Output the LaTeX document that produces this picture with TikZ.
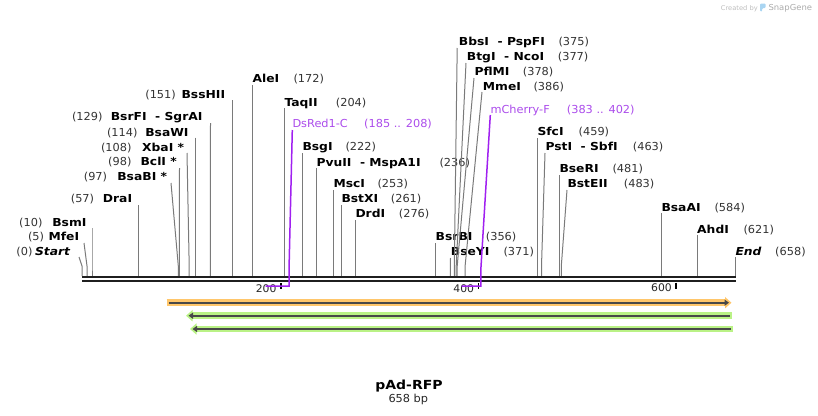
\documentclass[tikz,border=0pt]{standalone}
\usepackage{fontspec}
\setmainfont{DejaVu Sans}
\newfontfamily\lblfam{DejaVu Sans}[FakeStretch=1.12]
\newfontfamily\regfam{DejaVu Sans}[FakeStretch=1.03]
\usetikzlibrary{arrows.meta}
\definecolor{cutgray}{HTML}{7A7A7A}
\definecolor{bbcol}{HTML}{1F1F1F}
\definecolor{primline}{HTML}{A020F0}
\definecolor{primtext}{HTML}{AB4CEB}
\definecolor{featorange}{HTML}{FFC66A}
\definecolor{featgreen}{HTML}{BAF286}
\definecolor{featdark}{HTML}{484848}
\definecolor{logogray}{HTML}{BDBDBD}
\definecolor{logoblue}{HTML}{A9D5F2}
\tikzset{
  lbl/.style={inner sep=0pt, font=\lblfam\bfseries\fontsize{11}{13}\selectfont},
  num/.style={inner sep=0pt, text=black!80, font=\regfam\fontsize{11}{13}\selectfont},
  primlbl/.style={inner sep=0pt, text=primtext, font=\regfam\fontsize{11}{13}\selectfont},
  cutline/.style={draw=cutgray, line width=1pt},
  primer/.style={draw=primline, line width=1.5pt},
  backbone/.style={draw=bbcol},
  tickmark/.style={draw=black, line width=1.5pt},
  ticklbl/.style={inner sep=0pt, text=black!85, font=\regfam\fontsize{10.5}{12}\selectfont},
  halo/.style={line width=6.5pt},
  core/.style={draw=featdark, line width=1.7pt},
}
% left-labelled site: id, name, number, name right x, number right x, baseline, top x, top y, backbone x
\newcommand\lsite[9]{%
  \node[lbl, anchor=base east] (#1) at (#4,#6) {#2};
  \node[num, anchor=base east] (#1n) at (#5,#6) {#3};
  \coordinate (#1t) at (#7,#8);
  \coordinate (#1b) at (#9,276);
  \draw[cutline] (#1t) -- (#9,266) -- (#1b);}
% right-labelled site: id, name, number, name left x, number left x, baseline, top x, top y, backbone x
\newcommand\rsite[9]{%
  \node[lbl, anchor=base west] (#1) at (#4,#6) {#2};
  \node[num, anchor=base west] (#1n) at (#5,#6) {#3};
  \coordinate (#1t) at (#7,#8);
  \coordinate (#1b) at (#9,276);
  \draw[cutline] (#1t) -- (#9,266) -- (#1b);}
\begin{document}
\begin{tikzpicture}[x=1pt, y=-1pt]
\useasboundingbox (0,0) rectangle (818,415);

% logo
\node[anchor=base west, inner sep=0pt, text=logogray, font=\regfam\fontsize{6.5}{8}\selectfont] (createdby) at (720.7,10) {Created by};
\fill[logoblue, rounded corners=1.2pt] (760,11.7) -- (760,3.5) -- (765.7,3.5) -- (765.7,8) -- (762.2,8) -- (762.2,11.7) -- cycle;
\node[anchor=base west, inner sep=0pt, text=logogray!90!black, font=\regfam\fontsize{8.2}{10}\selectfont] (snapgene) at (768.3,10.3) {SnapGene};

% left-labelled sites
\lsite{start}{\textit{Start}}{(0)}{70.7}{32.7}{255.7}{79}{257}{82}
\lsite{mfe}{MfeI}{(5)}{79.3}{44.3}{240}{84}{243}{87}
\lsite{bsm}{BsmI}{(10)}{86.7}{42.7}{226}{92}{228}{92}
\lsite{dra}{DraI}{(57)}{132.3}{94.3}{202.7}{138.5}{205}{138.5}
\lsite{bsabi}{BsaBI *}{(97)}{167.3}{107.3}{180.7}{171}{183}{178.3}
\lsite{bcl}{BclI *}{(98)}{177}{131.7}{165}{179.5}{168}{179.3}
\lsite{xba}{XbaI *}{(108)}{184.3}{131.7}{151}{187}{153}{189.2}
\lsite{bsawi}{BsaWI}{(114)}{188.7}{137.7}{136}{195.2}{137.5}{195.2}
\lsite{bsrfi}{BsrFI ~- SgrAI}{(129)}{202.7}{102.7}{120}{210.5}{123}{210.3}
\lsite{bsshii}{BssHII}{(151)}{225.3}{176}{98.3}{232.2}{100}{232.2}

% right-labelled sites
\rsite{ale}{AleI}{(172)}{252.3}{293.3}{82.7}{252.5}{85}{252.5}
\rsite{taq}{TaqII}{(204)}{284.3}{335.7}{106}{284.4}{108}{284.4}
\rsite{bsg}{BsgI}{(222)}{302.3}{345.3}{150.5}{302.3}{153}{302.3}
\rsite{pvu}{PvuII ~- MspA1I}{(236)}{316.3}{439.3}{166}{316.3}{168}{316.3}
\rsite{msc}{MscI}{(253)}{333.3}{377.3}{187.7}{333.3}{190}{333.3}
\rsite{bstxi}{BstXI}{(261)}{341.3}{390.7}{202.7}{341.3}{205}{341.3}
\rsite{drd}{DrdI}{(276)}{355.3}{398.7}{217.7}{355.4}{220}{355.4}
\rsite{bsrbi}{BsrBI}{(356)}{435.5}{485.7}{240.7}{435.5}{243}{435.5}
\rsite{bseyi}{BseYI}{(371)}{450.7}{503.3}{255.7}{450.5}{258}{450.3}
\rsite{bbs}{BbsI ~- PspFI}{(375)}{458.7}{558.3}{45.7}{457.2}{48}{454.3}
\rsite{btg}{BtgI ~- NcoI}{(377)}{466.7}{557.7}{60.7}{466}{63}{456.2}
\rsite{pfl}{PflMI}{(378)}{474.3}{522.7}{75.7}{474}{78}{457.2}
\rsite{mme}{MmeI}{(386)}{482.7}{533.3}{90.7}{482}{92}{465.1}
\rsite{sfc}{SfcI}{(459)}{537.3}{578.5}{135.7}{537.4}{138}{537.4}
\rsite{pst}{PstI ~- SbfI}{(463)}{545.3}{632.7}{150.7}{545}{153}{541.5}
\rsite{bseri}{BseRI}{(481)}{559.3}{612.3}{172.7}{559.3}{175}{559.3}
\rsite{bsteii}{BstEII}{(483)}{567.3}{623.7}{187.3}{567}{190}{561.3}
\rsite{bsaai}{BsaAI}{(584)}{661.3}{714.3}{211}{661.5}{213}{661.5}
\rsite{ahd}{AhdI}{(621)}{697}{743.3}{233.3}{697.7}{235}{697.7}
\rsite{end}{\textit{End}}{(658)}{735.3}{775}{255.7}{735.3}{257}{735.3}

% backbone
\coordinate (bbL1) at (82,277);   \coordinate (bbR1) at (735.7,277);
\coordinate (bbL2) at (82,281);   \coordinate (bbR2) at (735.7,281);
\draw[backbone, line width=2.4pt] (bbL1) -- (bbR1);
\draw[backbone, line width=2.6pt] (bbL2) -- (bbR2);

% scale ticks
\coordinate (t200a) at (281,283);   \coordinate (t200b) at (281,289);
\coordinate (t400a) at (478.5,283); \coordinate (t400b) at (478.5,289);
\coordinate (t600a) at (675.5,282.7); \coordinate (t600b) at (675.5,288.5);
\draw[tickmark] (t200a) -- (t200b);
\draw[tickmark] (t400a) -- (t400b);
\draw[tickmark, line width=2pt] (t600a) -- (t600b);
\node[ticklbl, anchor=base east] (l200) at (276.7,292.3) {200};
\node[ticklbl, anchor=base east] (l400) at (474.3,292.3) {400};
\node[ticklbl, anchor=base east] (l600) at (672,291.7) {600};

% primers
\node[primlbl, anchor=base west] (dsred) at (292.3,127.7) {DsRed1-C};
\node[primlbl, anchor=base west] (dsredn) at (364,127.7) {(185 .. 208)};
\coordinate (dsredt) at (292.3,130);
\coordinate (dsredc) at (289,286);
\coordinate (dsrede) at (265.7,286);
\draw[primer] (dsredt) -- (289,270) -- (dsredc) -- (dsrede);

\node[primlbl, anchor=base west] (mcherry) at (490.3,113) {mCherry-F};
\node[primlbl, anchor=base west] (mcherryn) at (566.7,113) {(383 .. 402)};
\coordinate (mcht) at (490.3,115);
\coordinate (mchc) at (480.8,286);
\coordinate (mche) at (461.7,286);
\draw[primer] (mcht) -- (480.8,270) -- (mchc) -- (mche);

% features
\coordinate (oS) at (166.7,302.7);  \coordinate (oE) at (731.5,302.7);
\draw[halo, featorange, -{Triangle[length=6.5pt,width=11pt]}] (oS) -- (oE);
\draw[core, -{Triangle[length=4.5pt,width=6pt]}] (168.7,302.7) -- (729,302.7);

\coordinate (g1S) at (186,315.7);  \coordinate (g1E) at (731.7,315.7);
\draw[halo, featgreen, -{Triangle[length=6.5pt,width=11pt]}] (g1E) -- (g1S);
\draw[core, -{Triangle[length=4.5pt,width=6pt]}] (730,315.7) -- (188.5,315.7);

\coordinate (g2S) at (190,329);  \coordinate (g2E) at (732.7,329);
\draw[halo, featgreen, -{Triangle[length=6.5pt,width=11pt]}] (g2E) -- (g2S);
\draw[core, -{Triangle[length=4.5pt,width=6pt]}] (730.8,329) -- (192.5,329);

% title
\node[anchor=base, inner sep=0pt, font=\lblfam\bfseries\fontsize{12.5}{14}\selectfont] (title) at (409,389.3) {pAd-RFP};
\node[anchor=base, inner sep=0pt, text=black!85, font=\regfam\fontsize{11}{13}\selectfont] (size) at (408.3,402.7) {658 bp};
\end{tikzpicture}
\end{document}
